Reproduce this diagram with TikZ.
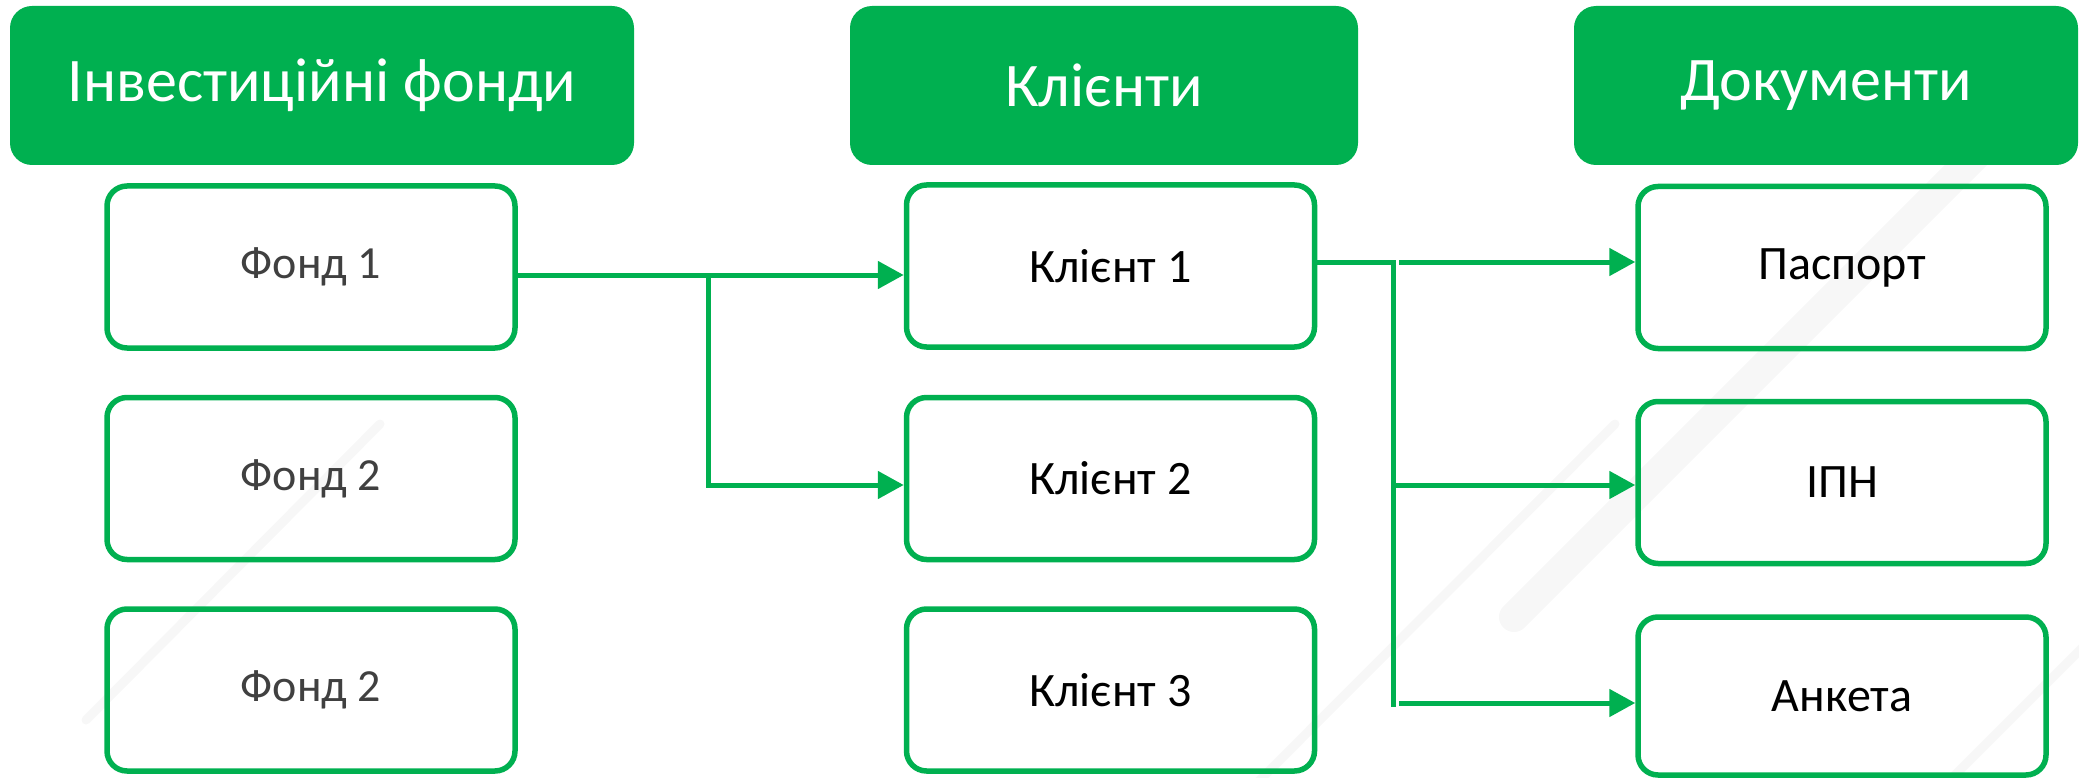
\documentclass[tikz,border=0pt]{standalone}
\usepackage{fontspec}
\setmainfont{Carlito}
\usetikzlibrary{arrows.meta}

\definecolor{brandgreen}{HTML}{00B050}
\definecolor{fundgray}{HTML}{404040}
\definecolor{streak}{HTML}{F7F7F7}

\tikzset{
  header/.style={rectangle, rounded corners=22pt, fill=brandgreen, draw=none,
    text=white, font=\fontsize{62}{66}\selectfont, minimum height=159pt,
    inner sep=0pt},
  item/.style={rectangle, rounded corners=20pt, draw=brandgreen, line width=5.5pt,
    minimum width=408pt, minimum height=162pt, inner sep=0pt,
    font=\fontsize{48}{52}\selectfont},
  fund/.style={item, text=fundgray, font=\fontsize{46}{50}\selectfont},
  wire/.style={draw=brandgreen, line width=5pt},
  feed/.style={wire, -{Triangle[length=26pt,width=27pt]}},
  streakline/.style={draw=streak, line width=9pt, line cap=round},
  streakband/.style={draw=streak, line width=30pt, line cap=round}
}

\begin{document}
\begin{tikzpicture}[x=1pt,y=-1pt]
\useasboundingbox (0,0) rectangle (2079,778);

% faint diagonal streaks in the background
\draw[streakline] (86,720) -- (380,424);
\draw[streakline] (1250,790) -- (1615,424);
\draw[streakband] (1514,617) -- (2010,121);
\draw[streakline] (1935,795) -- (2095,635);

% column headers
\node[header, minimum width=624pt] (hfunds) at (322,85.5) {Інвестиційні фонди};
\node[header, minimum width=508pt] (hclients) at (1104,85.5) {Клієнти};
\node[header, minimum width=504pt] (hdocs) at (1826,85.5) {Документи};

% funds
\node[fund] (f1) at (311,267) {Фонд 1};
\node[fund] (f2) at (311,478.5) {Фонд 2};
\node[fund] (f3) at (311,690) {Фонд 2};

% clients
\node[item] (c1) at (1110.5,266) {Клієнт 1};
\node[item] (c2) at (1110.5,478.5) {Клієнт 2};
\node[item] (c3) at (1110.5,690) {Клієнт 3};

% documents
\node[item] (d1) at (1842,267.5) {Паспорт};
\node[item] (d2) at (1842,482.5) {ІПН};
\node[item, minimum height=158pt] (d3) at (1842,696) {Анкета};

% fund -> clients
\coordinate (fsplit) at (708,275);
\draw[feed] (f1.east |- fsplit) -- (c1.west |- fsplit);
\draw[feed] (fsplit) |- (c2.west |- 0,485);

% client -> documents
\coordinate (dtop) at (1393,262);
\coordinate (dbottom) at (1393,707);
\coordinate (dstart1) at (1399,262);
\coordinate (dstart3) at (1399,703);
\draw[wire] (c1.east |- dtop) -- (dtop) -- (dbottom);
\draw[feed] (dstart1) -- (d1.west |- dstart1);
\draw[feed] (dtop |- 0,485) -- (d2.west |- 0,485);
\draw[feed] (dstart3) -- (d3.west |- dstart3);
\end{tikzpicture}
\end{document}
